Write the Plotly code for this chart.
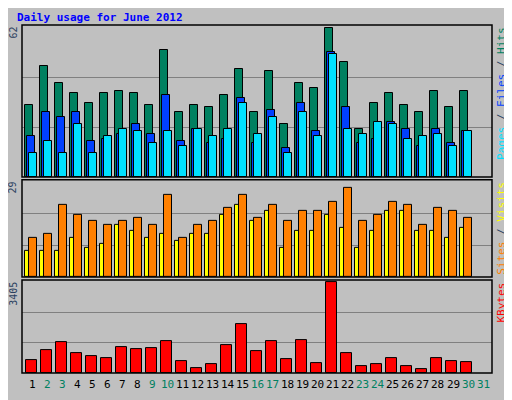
import plotly.graph_objects as go

days = list(range(1, 31))
hits = [30,46,39,35,31,35,36,35,30,53,27,30,29,34,45,27,44,22,39,37,62,48,20,31,35,30,27,36,29,36]
files = [17,27,25,27,15,16,18,22,18,34,15,20,14,16,33,14,28,12,31,19,52,29,14,16,23,20,13,20,14,19]
pages = [10,15,10,22,10,17,20,19,14,19,13,20,17,20,31,18,25,10,27,17,51,20,18,23,22,16,17,18,13,19]
sites = [8,8,8,12,9,10,16,14,12,13,11,13,13,19,22,17,20,9,14,14,19,15,9,14,20,20,14,14,12,15]
visits = [12,13,22,19,17,16,17,18,16,25,12,16,17,21,25,18,22,17,20,20,23,27,17,19,23,22,16,21,20,18]
kbytes = [497,870,1168,758,621,572,982,907,944,1205,460,199,348,1056,1839,833,1205,534,1243,385,3405,758,273,348,572,273,162,572,460,423]
day_labels = [str(d) for d in range(1, 32)]
weekend = {2,3,9,10,16,17,23,24,30,31}
max_hits, max_visits, max_kb = 62, 29, 3405

x0 = [d - 1 for d in days]
line = dict(color="black", width=1)
fig = go.Figure()
def bar(y, off, w, color, ax):
    fig.add_trace(go.Bar(x=x0, y=y, offset=off, width=w, marker=dict(color=color, line=line),
                         xaxis="x" if ax == "y" else "x" + ax[1:], yaxis=ax, showlegend=False))
bar(hits, 0.2, 0.53, "#008060", "y")
bar(files, 0.33, 0.53, "#0040FF", "y")
bar(pages, 0.47, 0.53, "#00E0FF", "y")
bar(sites, 0.2, 0.3, "#FFFF00", "y2")
bar(visits, 0.47, 0.53, "#FF8000", "y2")
bar(kbytes, 0.27, 0.73, "#FF0000", "y3")

xr = [0, 31.33]
common_x = dict(range=xr, showticklabels=False, showgrid=False, zeroline=False, fixedrange=True)
def yax(dom, mx):
    return dict(domain=dom, range=[0, mx * 1.02], tickvals=[mx / 3, 2 * mx / 3], showticklabels=False,
                gridcolor="#808080", gridwidth=1, zeroline=False, showline=False)
fig.update_layout(
    width=504, height=392, margin=dict(l=14, r=20, t=17, b=27),
    paper_bgcolor="#C0C0C0", plot_bgcolor="#C0C0C0", barmode="overlay", bargap=0,
    font=dict(family="DejaVu Sans Mono", size=11),
    xaxis=dict(common_x, anchor="y"), xaxis2=dict(common_x, anchor="y2", matches="x"),
    xaxis3=dict(common_x, anchor="y3", matches="x"),
    yaxis=yax([0.563, 1], max_hits), yaxis2=yax([0.276, 0.555], max_visits), yaxis3=yax([0, 0.267], max_kb),
)
for ax, dom in [("y", [0.563, 1]), ("y2", [0.276, 0.555]), ("y3", [0, 0.267])]:
    fig.add_shape(type="rect", xref="paper", yref="paper", x0=0, x1=1, y0=dom[0], y1=dom[1],
                  line=dict(color="black", width=1.5))
fig.add_annotation(text="<b>Daily usage for June 2012</b>", xref="paper", yref="paper", x=-0.015, y=1.045,
                   xanchor="left", yanchor="top", showarrow=False, font=dict(color="#0000FF", size=11))
for i, t in enumerate(day_labels):
    fig.add_annotation(text=t, x=i + 0.73, xref="x", yref="paper", y=-0.01, yanchor="top", showarrow=False,
                       font=dict(color="#008060" if (i + 1) in weekend else "black", size=11))
for txt, y in [(str(max_hits), 1.0), (str(max_visits), 0.555), (str(max_kb), 0.267)]:
    fig.add_annotation(text=txt, xref="paper", yref="paper", x=-0.004, y=y, xanchor="right", yanchor="top",
                       textangle=-90, showarrow=False, font=dict(size=10))
right = [("<span style='color:#00E0FF'>Pages</span> / <span style='color:#0040FF'>Files</span> / <span style='color:#008060'>Hits</span>", 1.0),
         ("<span style='color:#FF8000'>Sites</span> / <span style='color:#FFFF00'>Visits</span>", 0.555),
         ("<span style='color:#FF0000'>KBytes</span>", 0.267)]
for txt, y in right:
    fig.add_annotation(text=txt, xref="paper", yref="paper", x=1.002, y=y, xanchor="left", yanchor="top",
                       textangle=-90, showarrow=False, font=dict(size=11))
fig.write_html("out.html")
